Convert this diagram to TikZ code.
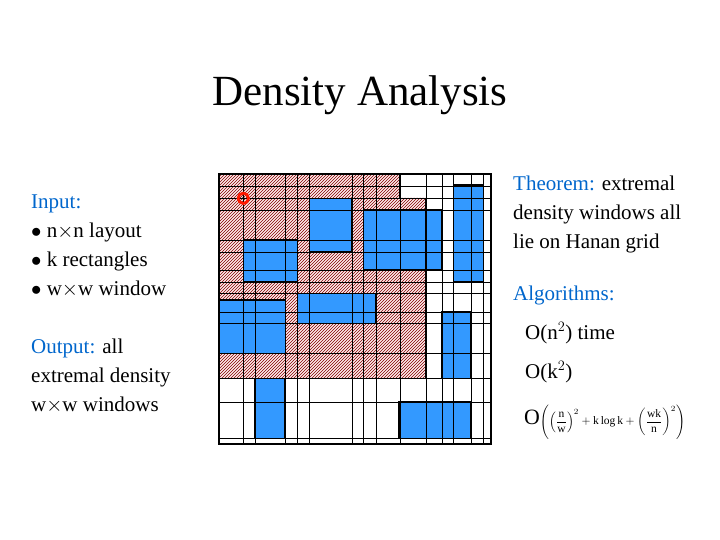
\documentclass[tikz,border=0pt]{standalone}
\usepackage{fontspec}
\setmainfont{Liberation Serif}
\usetikzlibrary{patterns}
\begin{document}
\begin{tikzpicture}[x=1pt,y=-1pt]

%Couleurs
\definecolor{colbloc}{RGB}{51,153,255}
\definecolor{coltitre}{RGB}{0,102,204}
\tikzset{
  bloc/.style={draw=black, very thick, fill=colbloc},
  txt/.style={anchor=west, inner sep=0pt, font=\fontsize{21}{29}\selectfont, align=left}
}

\useasboundingbox (0,0) rectangle (720,540);

%Titre
\node (titre) at (360,95) {\fontsize{43}{48}\selectfont Density Analysis};

%Textes de gauche
\node[txt, anchor=north west] (entree) at (31,195) {\textcolor{coltitre}{Input:}\\
  $\bullet$ n$\times$n layout\\ $\bullet$ k rectangles\\ $\bullet$ w$\times$w window};
\node[txt, anchor=north west] (sortie) at (31,339) {\textcolor{coltitre}{Output:} all\\ extremal density\\ w$\times$w windows};

%Textes de droite
\node[txt, anchor=north west] (theoreme) at (513,176) {\textcolor{coltitre}{Theorem:} extremal\\ density windows all\\ lie on Hanan grid};
\node[txt] (algos) at (513,295) {\textcolor{coltitre}{Algorithms:}};
\node[txt] (algoA) at (525,333) {O(n$^2$) time};
\node[txt] (algoB) at (525,372) {O(k$^2$)};
\node[anchor=west, inner sep=0pt] (formule) at (524,422) {\scalebox{1.15}{$\displaystyle\mbox{\fontsize{19}{20}\selectfont O}\!\left(\left(\frac{\mathrm{n}}{\mathrm{w}}\right)^{2}+\mathrm{k}\log\mathrm{k}+\left(\frac{\mathrm{wk}}{\mathrm{n}}\right)^{2}\right)$}};

%Zone hachuree
\fill[red!8] (219,174) -- (400,174) -- (400,198) -- (426,198) -- (426,378) -- (219,378) -- cycle;
\fill[pattern=north east lines, pattern color=red!50!black] (219,174) -- (400,174) -- (400,198) -- (426,198) -- (426,378) -- (219,378) -- cycle;

%Rectangles
\foreach \xa/\ya/\xb/\yb in {309.3/198.3/351.7/251.7, 363.3/210/441.7/270, 453.3/185/483.3/281.7,
  243.3/240/297.3/281.7, 219/300/285.7/353.3, 297.3/293.3/375.7/323.3,
  441.7/311.7/471/378.3, 255/378.3/285/438.3, 399/401.7/471/438.3}
  \draw[bloc] (\xa,\ya) rectangle (\xb,\yb);

%Grille de Hanan
\foreach \x in {243.3,255,285,297.3,309.3,351.7,363.3,375.7,400,425.7,441.7,453.3,471,483.3}
  \draw[thin] (\x,174) -- (\x,444);
\foreach \y in {186,198.3,210,240,251.7,270,281.7,293.3,311.7,323.3,353.3,378.3,401.7,438.3}
  \draw[thin] (219,\y) -- (491,\y);

%Contours epais
\draw[very thick] (400,174) -- (400,198.3) -- (426,198.3) -- (426,378.3) -- (243.3,378.3) -- (243.3,353.3);
\draw[very thick] (243.3,198.3) -- (400,198.3);
\draw[very thick] (243.3,198.3) -- (243.3,300);
\draw[very thick] (219,174) rectangle (491,444);

%Coin de la fenetre
\draw[red!80!orange, line width=2.8pt] (243.3,198.3) circle (5.2);
\fill (243.3,198.3) circle (1.5);

\end{tikzpicture}
\end{document}
